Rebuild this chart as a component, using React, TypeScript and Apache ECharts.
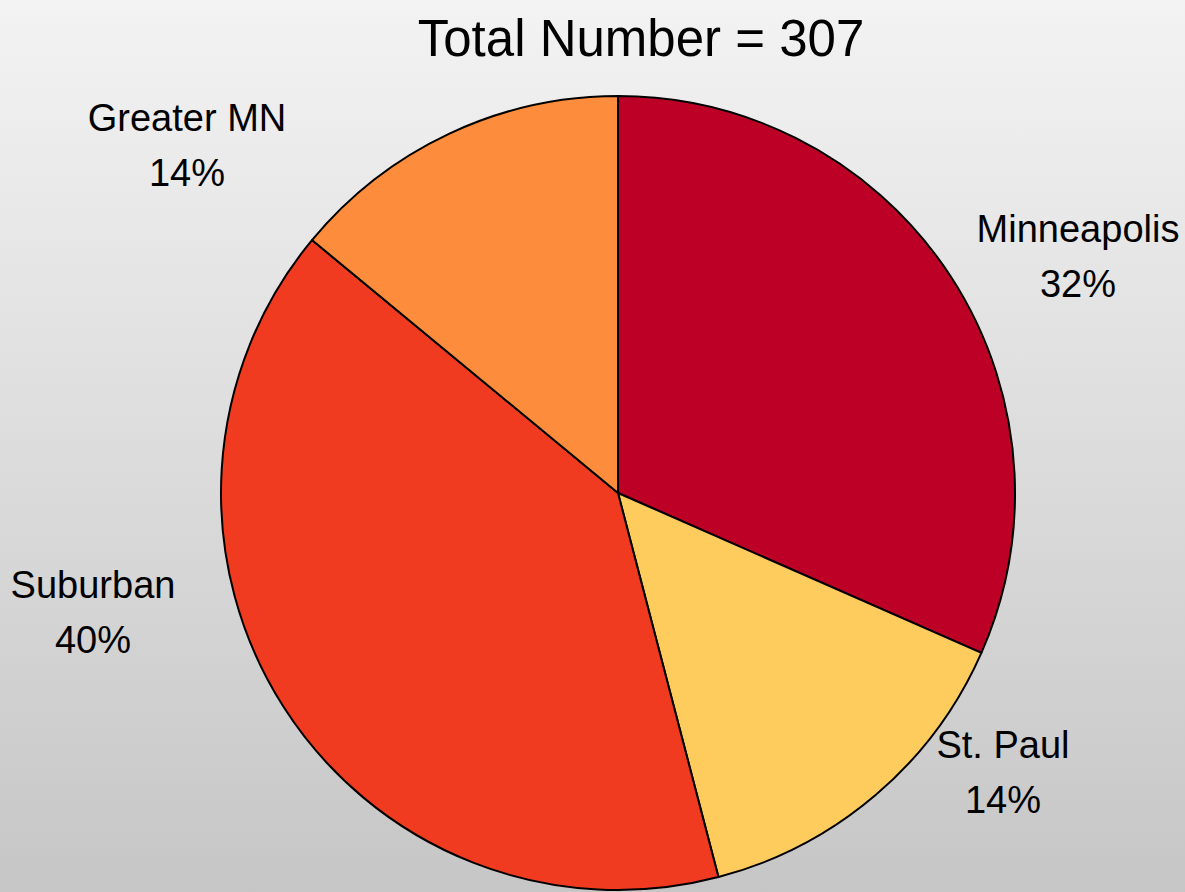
import React, { useEffect, useRef } from "react";
import * as echarts from "echarts";

const categories = ["Minneapolis", "St. Paul", "Suburban", "Greater MN"];
const values = [97, 44, 123, 43];
const colors = ["#BD0026", "#FECC5C", "#F03B20", "#FD8D3C"];
const titleText = "Total Number = 307";

// label anchor positions (styling only)
const labelPos = [
  [1078, 256],
  [1003, 772],
  [93, 612],
  [187, 145],
];

const FONT = "'Liberation Sans Narrow', 'Arial Narrow', 'Liberation Sans', Arial, sans-serif";

export default function App() {
  const ref = useRef<HTMLDivElement>(null);
  useEffect(() => {
    document.body.style.margin = "0";
    const chart = echarts.init(ref.current!, undefined, { renderer: "svg" });
    chart.setOption({
      animation: false,
      backgroundColor: new echarts.graphic.LinearGradient(0, 0, 0, 1, [
        { offset: 0, color: "#f3f3f3" },
        { offset: 1, color: "#c6c6c6" },
      ]),
      title: {
        text: titleText,
        left: 636,
        top: 8,
        textAlign: "center",
        textStyle: { fontFamily: FONT, fontSize: 51, fontWeight: "normal", color: "#000" },
      },
      series: [
        {
          type: "pie",
          center: [618, 493],
          radius: 397,
          startAngle: 90,
          clockwise: true,
          data: categories.map((c, i) => ({
            name: c,
            value: values[i],
            itemStyle: { color: colors[i] },
          })),
          itemStyle: { borderColor: "#000", borderWidth: 2 },
          label: {
            show: true,
            position: "outside",
            formatter: (p: any) => `${p.name}\n${Math.round(p.percent)}%`,
            fontFamily: FONT,
            fontSize: 38,
            lineHeight: 55,
            color: "#000",
            align: "center",
            overflow: "none",
          },
          labelLine: { show: false },
          labelLayout: (params: any) => {
            const pos = labelPos[params.dataIndex];
            return { x: pos[0], y: pos[1], align: "center", verticalAlign: "middle" };
          },
          emphasis: { disabled: true },
        },
      ],
    });
    return () => chart.dispose();
  }, []);
  return <div ref={ref} style={{ width: 1185, height: 892 }} />;
}
